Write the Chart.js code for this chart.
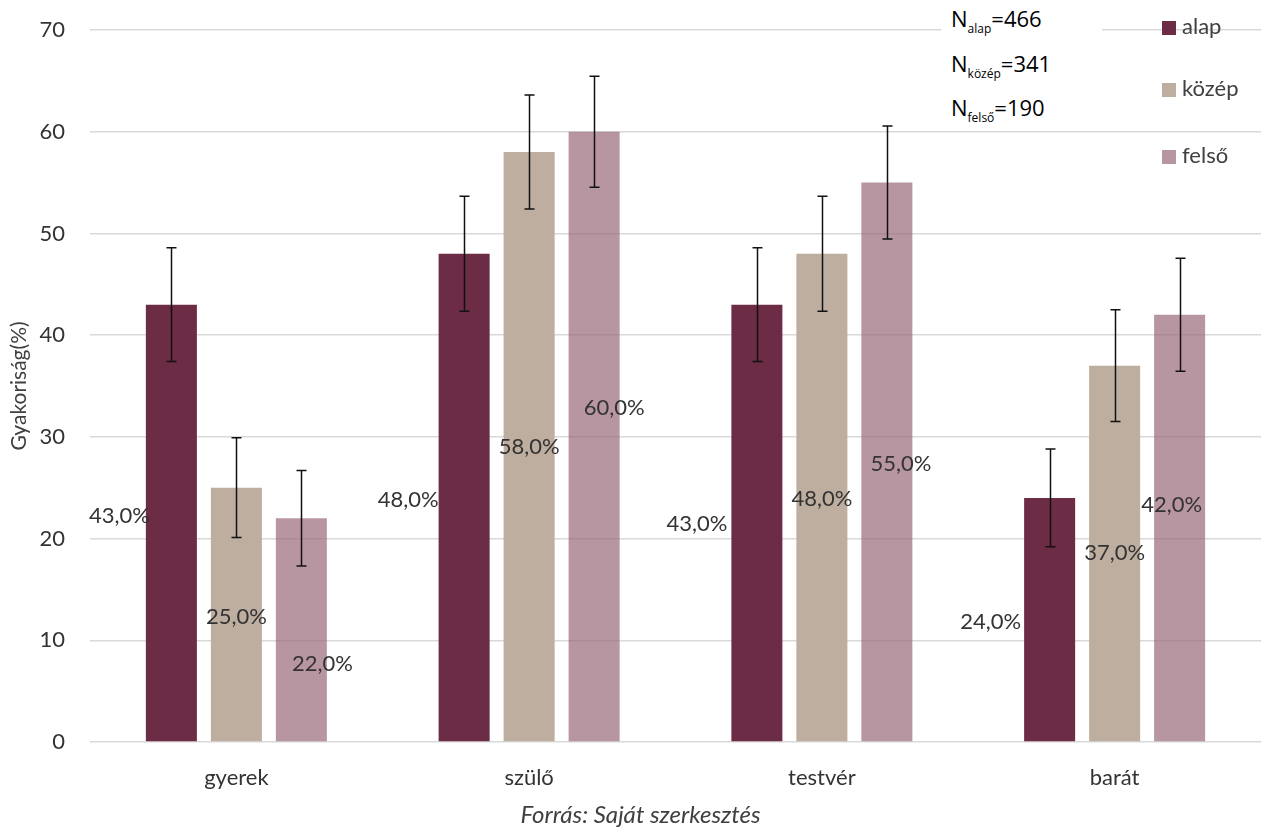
<!DOCTYPE html>
<html>
<head>
<meta charset="utf-8">
<script src="https://cdn.jsdelivr.net/npm/chart.js@4"></script>
<style>
  html, body { margin: 0; padding: 0; background: #fff; }
  #wrap { position: relative; width: 1261px; height: 828px; overflow: hidden; font-family: Lato, "Open Sans", sans-serif; color: #404040; }
  canvas { position: absolute; left: 0; top: 0; }
  #nbox { position: absolute; left: 941px; top: 0px; width: 161px; height: 126px; background: #fff; color: #000; font-family: "Open Sans", Lato, sans-serif; font-size: 22px; }
  #nbox div { position: absolute; left: 10px; white-space: nowrap; }
  #nbox sub { font-size: 12px; vertical-align: -6px; }
  #legend { position: absolute; left: 1162px; top: 0; font-size: 22px; color: #404040; }
  #legend .it { position: absolute; left: 0; white-space: nowrap; height: 26px; line-height: 26px; }
  #legend .sw { display: inline-block; width: 14px; height: 14px; margin-right: 6px; vertical-align: -1px; }
  #caption { position: absolute; left: 0; width: 1281px; top: 799px; text-align: center; font-style: italic; font-size: 24px; color: #404040; }
</style>
</head>
<body>
<div id="wrap">
  <canvas id="c" width="1261" height="828"></canvas>
  <div id="nbox"></div>
  <div id="legend"></div>
  <div id="caption">Forrás: Saját szerkesztés</div>
</div>
<script>
const categories = ["gyerek", "szülő", "testvér", "barát"];
const seriesNames = ["alap", "közép", "felső"];
const alapValues = [43, 48, 43, 24];
const kozepValues = [25, 58, 48, 37];
const felsoValues = [22, 60, 55, 42];
const alapErrors = [5.6, 5.65, 5.6, 4.8];
const kozepErrors = [4.9, 5.6, 5.65, 5.5];
const felsoErrors = [4.7, 5.45, 5.55, 5.55];
const sampleSizes = [466, 341, 190];
const yTicks = [0, 10, 20, 30, 40, 50, 60, 70];

// style: colours and manual label nudges (px) relative to bar middle
const colors = ["#6C2C45", "#BDAE9F", "rgba(154,105,121,0.7)"];
const legendColors = ["#6C2C45", "#BDAE9F", "#B896A1"];
const labelNudges = [
  [[-52, -7], [-56, 2], [-60, 1], [-59, 2]],
  [[0, 2], [0, 0], [0, 1], [0, -1]],
  [[21, 34], [20, -29], [14, 2], [-8, -23]]
];
const FONT = 'Lato, "Open Sans", sans-serif';

const allValues = [alapValues, kozepValues, felsoValues];
const allErrors = [alapErrors, kozepErrors, felsoErrors];

const errorBarPlugin = {
  id: 'errorBars',
  afterDatasetsDraw(chart) {
    const ctx = chart.ctx;
    const y = chart.scales.y;
    ctx.save();
    ctx.strokeStyle = '#111';
    ctx.lineWidth = 1.5;
    chart.data.datasets.forEach((ds, di) => {
      const meta = chart.getDatasetMeta(di);
      meta.data.forEach((bar, i) => {
        const v = allValues[di][i], e = allErrors[di][i];
        const yt = y.getPixelForValue(v + e), yb = y.getPixelForValue(v - e);
        const x = Math.round(bar.x) + 0.5;
        ctx.beginPath();
        ctx.moveTo(x, yt); ctx.lineTo(x, yb);
        ctx.moveTo(x - 5, yt); ctx.lineTo(x + 5, yt);
        ctx.moveTo(x - 5, yb); ctx.lineTo(x + 5, yb);
        ctx.stroke();
      });
    });
    ctx.restore();
  }
};

const labelPlugin = {
  id: 'valueLabels',
  afterDraw(chart) {
    const ctx = chart.ctx;
    const y = chart.scales.y;
    ctx.save();
    ctx.font = '22px ' + FONT;
    ctx.fillStyle = '#333';
    ctx.textAlign = 'center';
    ctx.textBaseline = 'middle';
    chart.data.datasets.forEach((ds, di) => {
      const meta = chart.getDatasetMeta(di);
      meta.data.forEach((bar, i) => {
        const v = allValues[di][i];
        const n = labelNudges[di][i];
        const yy = y.getPixelForValue(v / 2) + n[1];
        ctx.fillText(v.toFixed(1).replace('.', ',') + '%', bar.x + n[0], yy);
      });
    });
    ctx.restore();
  }
};

new Chart(document.getElementById('c'), {
  type: 'bar',
  data: {
    labels: categories,
    datasets: seriesNames.map((n, i) => ({
      label: n,
      data: allValues[i],
      backgroundColor: colors[i],
      borderWidth: 0,
      categoryPercentage: 0.666,
      barPercentage: 0.785
    }))
  },
  options: {
    responsive: false,
    animation: false,
    devicePixelRatio: 1,
    layout: { padding: { top: 30, left: 0, right: 0, bottom: 0 } },
    plugins: { legend: { display: false }, tooltip: { enabled: false } },
    scales: {
      x: {
        grid: { display: false },
        border: { display: false },
        ticks: { color: '#333', font: { family: FONT, size: 22 }, padding: 15 },
        afterFit(s) { s.height = 86; s.paddingLeft = 0; s.paddingRight = 0; }
      },
      y: {
        min: 0, max: 70,
        afterBuildTicks(s) { s.ticks = yTicks.map(v => ({ value: v })); },
        grid: { color: '#D9D9D9', lineWidth: 1.5, drawTicks: false },
        border: { display: false },
        ticks: { color: '#333', font: { family: FONT, size: 22 }, padding: 25 },
        title: { display: true, text: 'Gyakoriság(%)', color: '#404040', font: { family: FONT, size: 21 }, padding: { top: 7, bottom: 0 } },
        afterFit(s) { s.width = 90; s.paddingTop = 0; s.paddingBottom = 0; }
      }
    }
  },
  plugins: [errorBarPlugin, labelPlugin]
});

// N box
const nbox = document.getElementById('nbox');
const nTops = [3, 48, 92];
seriesNames.forEach((n, i) => {
  const d = document.createElement('div');
  d.style.top = nTops[i] + 'px';
  d.innerHTML = 'N<sub>' + n + '</sub>=' + sampleSizes[i];
  nbox.appendChild(d);
});
// legend
const legend = document.getElementById('legend');
const legTops = [13, 75, 142];
seriesNames.forEach((n, i) => {
  const d = document.createElement('div');
  d.className = 'it';
  d.style.top = legTops[i] + 'px';
  d.innerHTML = '<span class="sw" style="background:' + legendColors[i] + '"></span>' + n;
  legend.appendChild(d);
});
</script>
</body>
</html>
